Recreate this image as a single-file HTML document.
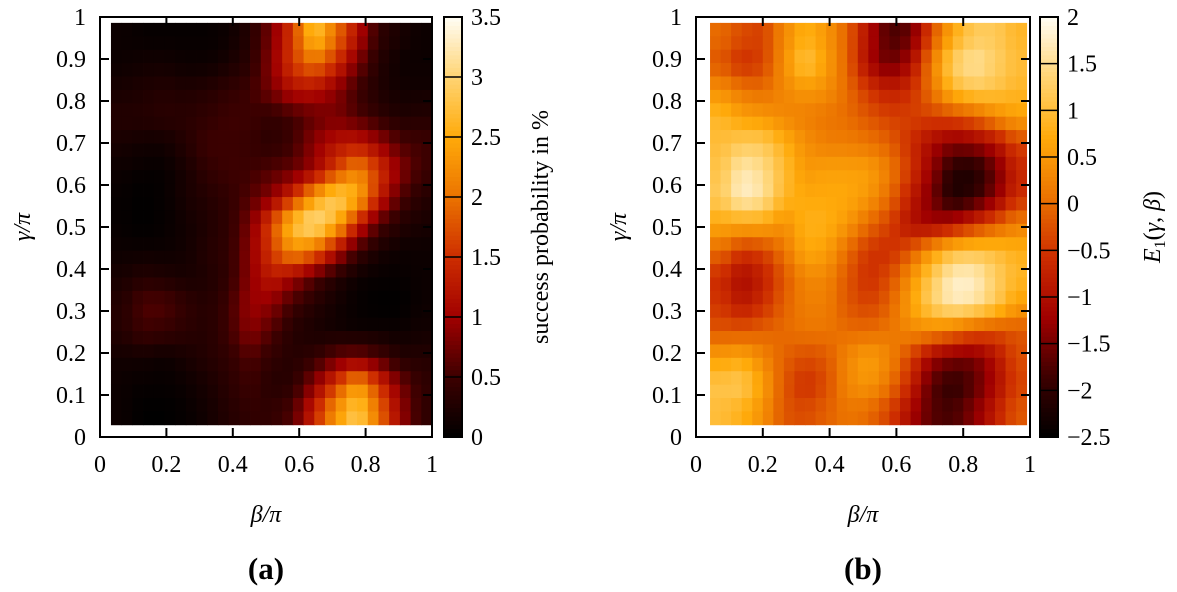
<!DOCTYPE html>
<html><head><meta charset="utf-8">
<style>
body{margin:0;background:#fff;width:1177px;height:587px;overflow:hidden}
svg text{font-family:"Liberation Serif",serif;font-size:24px;fill:#000}
</style></head>
<body>
<svg id="fig" width="1177" height="587" xmlns="http://www.w3.org/2000/svg"></svg>
<script>
// Panel (a): success probability in % (rows from gamma=1 down to 0, cols beta 0..1)
const probRows = [
[0.1,0.05,0.05,0.05,0.05,0.1,0.3,0.8,1.6,2.8,2.0,1.2,0.4,0.2,0.1],
[0.1,0.15,0.15,0.1,0.1,0.2,0.35,0.9,1.6,2.0,1.5,0.8,0.3,0.1,0.1],
[0.2,0.25,0.3,0.25,0.3,0.4,0.5,0.8,1.2,1.2,0.9,0.5,0.25,0.15,0.15],
[0.3,0.3,0.35,0.35,0.4,0.5,0.5,0.4,0.5,0.7,0.8,0.6,0.4,0.25,0.3],
[0.2,0.15,0.15,0.3,0.5,0.5,0.45,0.35,0.5,0.9,1.2,1.3,1.0,0.6,0.5],
[0.1,0.05,0.05,0.2,0.4,0.5,0.5,0.6,0.7,1.0,1.6,2.2,1.6,0.9,0.5],
[0.05,0.0,0.05,0.2,0.3,0.4,0.6,0.9,1.5,2.4,3.0,2.6,1.4,0.6,0.3],
[0.05,0.0,0.05,0.15,0.25,0.4,0.8,1.7,2.8,3.2,2.6,1.4,0.6,0.3,0.2],
[0.1,0.1,0.1,0.15,0.3,0.4,0.9,1.6,2.3,2.0,1.2,0.5,0.2,0.1,0.1],
[0.2,0.3,0.25,0.2,0.25,0.4,0.9,1.3,1.0,0.6,0.3,0.1,0.05,0.05,0.1],
[0.3,0.6,0.6,0.4,0.3,0.5,1.0,0.9,0.5,0.3,0.15,0.05,0.0,0.0,0.1],
[0.3,0.5,0.45,0.35,0.3,0.5,0.9,0.6,0.3,0.2,0.15,0.1,0.1,0.1,0.15],
[0.15,0.15,0.1,0.2,0.3,0.4,0.6,0.4,0.3,0.4,0.7,0.8,0.6,0.3,0.3],
[0.1,0.05,0.05,0.1,0.2,0.35,0.5,0.3,0.35,0.9,1.6,2.4,1.6,0.8,0.4],
[0.1,0.0,0.0,0.05,0.15,0.3,0.4,0.4,0.6,1.4,2.3,2.9,2.0,1.0,0.4]
];
// Panel (b): E1(gamma,beta)
const energyRows = [
[0.0,-0.3,-0.4,0.3,0.8,0.5,-0.1,-1.0,-1.8,-1.6,-0.3,0.7,1.2,1.2,0.9],
[-0.2,-0.6,-0.4,0.4,1.1,0.6,-0.1,-1.1,-1.6,-1.1,0.2,1.3,1.6,1.3,1.0],
[0.4,0.1,0.0,0.3,0.5,0.4,0.0,-0.5,-0.8,-0.6,0.1,0.9,1.2,1.1,0.9],
[0.9,0.6,0.5,0.3,0.2,0.1,0.0,-0.2,-0.4,-0.4,-0.4,-0.3,-0.1,0.3,0.6],
[1.0,1.2,1.2,0.8,0.4,0.2,0.2,0.1,-0.1,-0.6,-1.1,-1.4,-1.3,-1.0,-0.4],
[1.1,1.7,1.5,1.0,0.5,0.6,0.6,0.6,0.2,-0.5,-1.3,-2.1,-2.2,-1.6,-0.7],
[1.2,1.8,1.6,0.9,0.7,0.7,0.7,0.5,0.0,-0.8,-1.5,-2.2,-2.0,-1.4,-0.6],
[0.7,0.7,0.7,0.4,0.8,0.8,0.5,0.0,-0.4,-1.0,-1.2,-1.0,-0.6,-0.2,0.2],
[0.0,-0.5,-0.4,0.1,0.7,0.6,0.0,-0.5,-0.6,-0.2,0.5,1.0,1.1,1.0,0.8],
[-0.6,-1.1,-0.8,-0.2,0.3,0.3,-0.2,-0.6,-0.3,0.4,1.2,1.8,1.8,1.3,0.9],
[-0.5,-0.9,-0.6,-0.1,0.2,0.2,-0.2,-0.4,-0.1,0.6,1.3,1.7,1.6,1.2,0.6],
[-0.2,-0.2,-0.1,0.0,0.1,0.1,0.0,0.0,0.1,0.3,0.3,0.1,-0.2,-0.3,-0.2],
[0.6,0.7,0.3,-0.1,-0.3,-0.2,0.3,0.6,0.3,-0.4,-1.2,-1.5,-1.5,-1.0,-0.3],
[1.1,1.2,0.6,-0.2,-0.6,-0.3,0.3,0.5,0.1,-0.7,-1.7,-2.0,-1.7,-1.1,-0.4],
[1.0,0.8,0.4,-0.2,-0.3,-0.1,0.1,0.0,-0.4,-1.1,-1.7,-1.8,-1.4,-0.8,-0.2]
];
const axisTicks = ["0","0.1","0.2","0.3","0.4","0.5","0.6","0.7","0.8","0.9","1"];
const xTicks = ["0","0.2","0.4","0.6","0.8","1"];
const probTicks = ["0","0.5","1","1.5","2","2.5","3","3.5"];
const energyTicks = ["−2.5","−2","−1.5","−1","−0.5","0","0.5","1","1.5","2"];

const NS="http://www.w3.org/2000/svg";
const svg=document.getElementById('fig');
function mk(tag,attrs,parent){const e=document.createElementNS(NS,tag);for(const k in attrs)e.setAttribute(k,attrs[k]);(parent||svg).appendChild(e);return e;}
const stops=[[0,[0,0,0]],[1/7,[60,0,0]],[2/7,[160,0,0]],[3/7,[205,45,0]],[4/7,[235,115,0]],[5/7,[255,170,10]],[6/7,[255,212,115]],[1,[255,253,245]]];
function cmap(t){t=Math.max(0,Math.min(1,t));for(let i=1;i<stops.length;i++){if(t<=stops[i][0]){const a=stops[i-1],b=stops[i];const f=(t-a[0])/(b[0]-a[0]);const c=a[1].map((v,j)=>Math.round(v+(b[1][j]-v)*f));return `rgb(${c})`;}}return 'rgb(255,253,245)';}
// display sampling: bilinear lookup between block centres (rendering only)
function sample(rows,fr,fc){const n=rows.length,m=rows[0].length;
  let r=fr-0.5,c=fc-0.5;r=Math.max(0,Math.min(n-1,r));c=Math.max(0,Math.min(m-1,c));
  const r0=Math.floor(r),c0=Math.floor(c),r1=Math.min(n-1,r0+1),c1=Math.min(m-1,c0+1),dr=r-r0,dc=c-c0;
  return rows[r0][c0]*(1-dr)*(1-dc)+rows[r0][c1]*(1-dr)*dc+rows[r1][c0]*dr*(1-dc)+rows[r1][c1]*dr*dc;}

function panel(o){
  const g=mk('g',{});
  
  
  const {x0,x1,y0,y1}=o;
  const sx=v=>x0+(x1-x0)*v, sy=v=>y0+(y1-y0)*v;
  const n=o.rows.length, m=o.rows[0].length;
  const R=2*n, C=2*m;
  const hx0=o.hx0,hx1=o.hx1,hy0=o.hy0,hy1=o.hy1;
  const cw=(hx1-hx0)/C, ch=(hy1-hy0)/R;
  for(let r=0;r<R;r++)for(let c=0;c<C;c++){
    const v=sample(o.rows,(r+0.5)/2,(c+0.5)/2);
    const x=sx(hx0+c*cw), y=sy(hy1-r*ch);
    const rc=mk('rect',{x:x.toFixed(2),y:y.toFixed(2),width:(sx(hx0+(c+1)*cw)-x+0.4).toFixed(2),height:(sy(hy1-(r+1)*ch)-y+0.4).toFixed(2),fill:cmap((v-o.vmin)/(o.vmax-o.vmin))},g);
    
    
  }
  const fr=mk('rect',{x:x0,y:y1,width:x1-x0,height:y0-y1,fill:'none',stroke:'#000','stroke-width':2},g);
  
  
  axisTicks.forEach((t,i)=>{const y=sy(i/10);
    mk('line',{x1:x0,x2:x0+9,y1:y,y2:y,stroke:'#000','stroke-width':2},g);
    mk('line',{x1:x1,x2:x1-9,y1:y,y2:y,stroke:'#000','stroke-width':2},g);
    const tx=mk('text',{x:x0-14,y:y+8,'text-anchor':'end'},g);tx.textContent=t;
    
    });
  xTicks.forEach((t,i)=>{const x=sx(i/5);
    mk('line',{x1:x,x2:x,y1:y0,y2:y0-9,stroke:'#000','stroke-width':2},g);
    mk('line',{x1:x,x2:x,y1:y1,y2:y1+9,stroke:'#000','stroke-width':2},g);
    const tx=mk('text',{x:x,y:y0+35,'text-anchor':'middle'},g);tx.textContent=t;
    
    });
  const cb=mk('g',{},g);
  
  
  const cbx=o.cbx, cbw=18, N=100;
  for(let i=0;i<N;i++){const t0=i/N;mk('rect',{x:cbx,y:(y0-(y0-y1)*(i+1)/N).toFixed(2),width:cbw,height:((y0-y1)/N+0.5).toFixed(2),fill:cmap(t0+0.5/N)},cb);}
  mk('rect',{x:cbx,y:y1,width:cbw,height:y0-y1,fill:'none',stroke:'#000','stroke-width':2},cb);
  o.cticks.forEach((t,i)=>{const v=o.vmin+i*o.cstep;const y=y0-(y0-y1)*(v-o.vmin)/(o.vmax-o.vmin);
    mk('line',{x1:cbx,x2:cbx+cbw,y1:y,y2:y,stroke:'#000','stroke-width':1.5},cb);
    const tx=mk('text',{x:cbx+27,y:y+8},cb);tx.textContent=t;
    
    });
  const ct=mk('text',{x:o.ctx,y:(y0+y1)/2,'text-anchor':'middle',transform:`rotate(-90 ${o.ctx} ${(y0+y1)/2})`},g);
  ct.innerHTML=o.ctitle;
  
  
  const yt=mk('text',{x:o.ytx,y:(y0+y1)/2,'text-anchor':'middle','font-style':'italic',transform:`rotate(-90 ${o.ytx} ${(y0+y1)/2})`},g);
  yt.textContent='γ/π';
  
  
  const xt=mk('text',{x:(x0+x1)/2,y:522,'text-anchor':'middle','font-style':'italic'},g);
  xt.textContent='β/π';
  
  
  const lb=mk('text',{x:(x0+x1)/2,y:579,'text-anchor':'middle','font-weight':'bold',style:'font-size:31px'},g);
  lb.textContent=o.label;
  
  
}
panel({name:'panel-a',rows:probRows,x0:100,x1:432,y0:437,y1:17,hx0:0.033,hx1:1,hy0:0.029,hy1:0.986,vmin:0,vmax:3.5,cticks:probTicks,cstep:0.5,cbx:444,ctx:548,ctitle:'success probability in %',ytx:30,label:'(a)'});
panel({name:'panel-b',rows:energyRows,x0:696,x1:1030,y0:437,y1:17,hx0:0.042,hx1:0.99,hy0:0.029,hy1:0.986,vmin:-2.5,vmax:2,cticks:energyTicks,cstep:0.5,cbx:1040,ctx:1160,ctitle:'<tspan font-style="italic">E</tspan><tspan style="font-size:16px" dy="5">1</tspan><tspan dy="-5">(</tspan><tspan font-style="italic">γ</tspan>, <tspan font-style="italic">β</tspan>)',ytx:626,label:'(b)'});
</script>
</body></html>
